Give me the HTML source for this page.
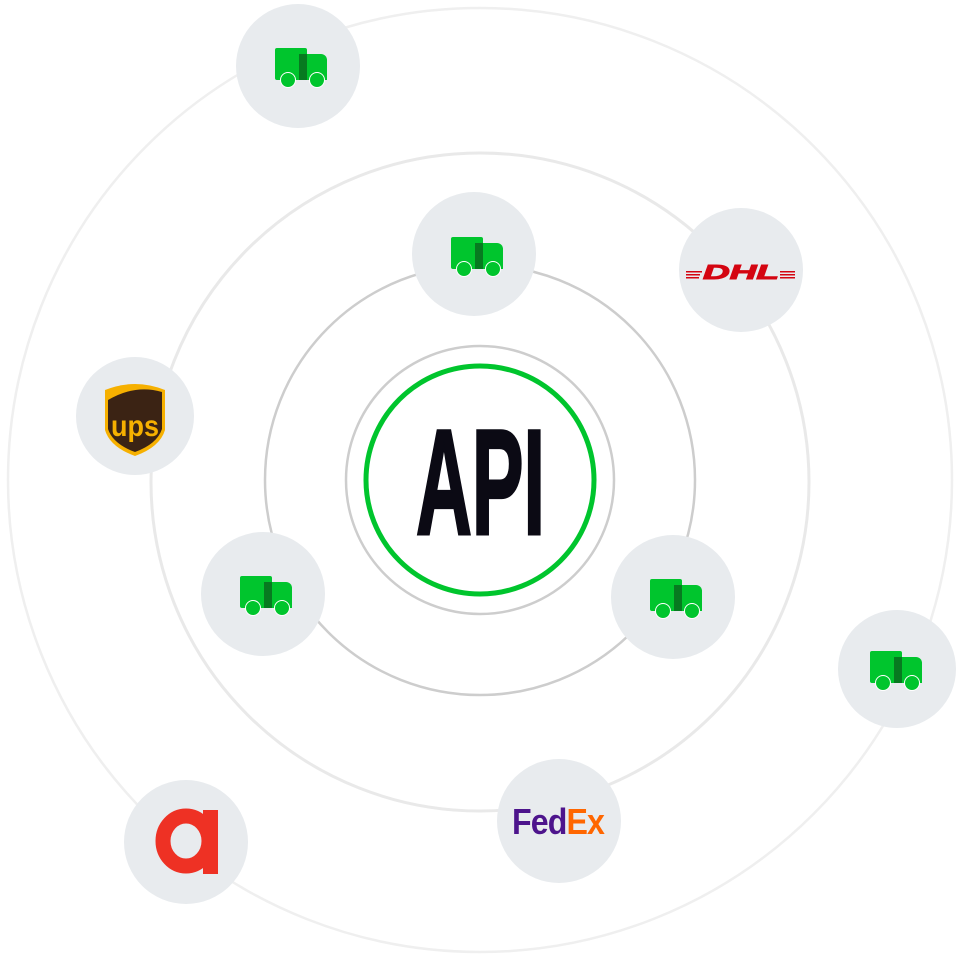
<!DOCTYPE html>
<html><head><meta charset="utf-8"><style>html,body{margin:0;padding:0;background:#fff}svg{display:block}</style></head>
<body>
<svg width="960" height="960" viewBox="0 0 960 960" xmlns="http://www.w3.org/2000/svg">
<defs>
<g id="truck">
<rect x="0" y="0" width="32" height="32" rx="2" fill="#00c52d"/>
<path d="M24 6 H46 A6 6 0 0 1 52 12 V32 H24 Z" fill="#00c52d"/>
<rect x="24" y="6" width="8" height="26" fill="#077a20"/>
<circle cx="13" cy="32" r="7.5" fill="#00c52d" stroke="#fff" stroke-width="1"/>
<circle cx="42" cy="32" r="7.5" fill="#00c52d" stroke="#fff" stroke-width="1"/>
</g>
</defs>
<circle cx="480" cy="480" r="472" fill="none" stroke="#efefef" stroke-width="2.5"/>
<circle cx="480" cy="482" r="329" fill="none" stroke="#e9e9e9" stroke-width="3"/>
<circle cx="480" cy="480" r="215" fill="none" stroke="#cdcdcd" stroke-width="2.5"/>
<circle cx="480" cy="480" r="134" fill="#fff" stroke="#cdcdcd" stroke-width="2.5"/>
<circle cx="480" cy="480" r="114" fill="#fff" stroke="#00c52d" stroke-width="5"/>
<text x="416" y="534" textLength="129" lengthAdjust="spacingAndGlyphs" font-family="Liberation Sans, sans-serif" font-weight="bold" font-size="150" fill="#0b0a14" stroke="#0b0a14" stroke-width="3">API</text>

<g fill="#e8ebee">
<circle cx="298" cy="66" r="62"/>
<circle cx="474" cy="254" r="62"/>
<circle cx="741" cy="270" r="62"/>
<circle cx="135" cy="416" r="59"/>
<circle cx="263" cy="594" r="62"/>
<circle cx="673" cy="597" r="62"/>
<circle cx="897" cy="669" r="59"/>
<circle cx="559" cy="821" r="62"/>
<circle cx="186" cy="842" r="62"/>
</g>
<use href="#truck" x="275" y="48"/>
<use href="#truck" x="451" y="237"/>
<use href="#truck" x="240" y="576"/>
<use href="#truck" x="650" y="579"/>
<use href="#truck" x="870" y="651"/>

<!-- UPS -->
<path d="M105 390 Q135 378 165 390 V430 Q160 447 135 456 Q110 447 105 430 Z" fill="#f6b000"/>
<path d="M108 400 Q135 384 162 392 V429 Q157 444 135 452 Q113 444 108 429 Z" fill="#3b2314"/>
<text x="135" y="436" text-anchor="middle" font-family="Liberation Sans, sans-serif" font-weight="bold" font-size="30" fill="#f6b000" textLength="48" lengthAdjust="spacingAndGlyphs">ups</text>

<!-- DHL -->
<g fill="#d40511">
<rect x="686" y="271" width="16" height="1.5"/><rect x="686" y="274" width="14" height="1.5"/><rect x="686" y="277" width="13" height="1.5"/>
<rect x="780" y="271" width="15" height="1.5"/><rect x="780" y="274" width="15" height="1.5"/><rect x="780" y="277" width="15" height="1.5"/>
</g>
<text x="741" y="279" text-anchor="middle" font-family="Liberation Sans, sans-serif" font-weight="bold" font-style="italic" font-size="20" fill="#d40511" stroke="#d40511" stroke-width="1" textLength="76" lengthAdjust="spacingAndGlyphs">DHL</text>

<!-- FedEx -->
<text x="512" y="834" font-family="Liberation Sans, sans-serif" font-weight="bold" font-size="36" textLength="92" lengthAdjust="spacingAndGlyphs" letter-spacing="-1"><tspan fill="#4d148c">Fed</tspan><tspan fill="#ff6600">Ex</tspan></text>

<!-- a -->
<ellipse cx="186" cy="841" rx="23" ry="25" fill="none" stroke="#ee3124" stroke-width="15"/>
<rect x="203" y="810" width="15" height="64" fill="#ee3124"/>
</svg>
</body></html>
